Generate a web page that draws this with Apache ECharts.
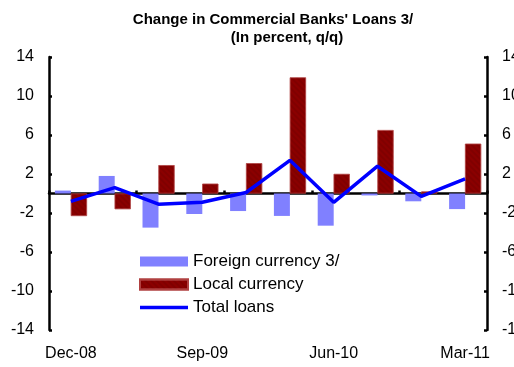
<!DOCTYPE html>
<html>
<head>
<meta charset="utf-8">
<script src="https://cdn.jsdelivr.net/npm/echarts@6/dist/echarts.min.js"></script>
<style>
  html, body { margin: 0; padding: 0; background: #fff; }
  #myChart { width: 514px; height: 367px; }
</style>
</head>
<body>
<div id="myChart"></div>
<script>
// quarters
const categories = ['Dec-08', 'Mar-09', 'Jun-09', 'Sep-09', 'Dec-09', 'Mar-10', 'Jun-10', 'Sep-10', 'Dec-10', 'Mar-11']
// percent q/q
const foreign = [0.3, 1.8, -3.5, -2.1, -1.8, -2.3, -3.3, -0.2, -0.8, -1.6]
const local = [-2.3, -1.6, 2.9, 1.0, 3.1, 11.9, 2.0, 6.5, 0.2, 5.1]
const total = [-0.8, 0.6, -1.1, -0.9, 0.1, 3.4, -0.9, 2.8, -0.3, 1.5]
const yMin = -14
const yMax = 14
const yStep = 4

const font = 'Liberation Sans, Arial, sans-serif'

function yAxisOf (pos) {
  return {
    type: 'value',
    position: pos,
    min: yMin,
    max: yMax,
    interval: yStep,
    splitLine: { show: false },
    axisLine: { show: true, onZero: false, lineStyle: { color: '#000', width: 2.5 } },
    axisTick: { show: true, inside: true, length: 3, lineStyle: { color: '#000', width: 2.5 } },
    axisLabel: { color: '#000', fontSize: 16, fontFamily: font, margin: 15 }
  }
}

let myChart = echarts.init(document.getElementById('myChart'))
myChart.setOption({
  animation: false,
  title: [
    {
      text: "Change in Commercial Banks' Loans 3/",
      left: 268, top: 7, textAlign: 'center',
      textStyle: { fontSize: 15, fontWeight: 'bold', color: '#000', fontFamily: font }
    },
    {
      text: '(In percent, q/q)',
      left: 282, top: 25, textAlign: 'center',
      textStyle: { fontSize: 15, fontWeight: 'bold', color: '#000', fontFamily: font }
    }
  ],
  grid: { left: 49, right: 27, top: 57, bottom: 37, outerBoundsMode: 'none', containLabel: false },
  legend: {
    orient: 'vertical',
    left: 139,
    top: 253,
    padding: 0,
    itemWidth: 48,
    itemHeight: 10,
    itemGap: 6,
    textStyle: { fontSize: 17, color: '#000', fontFamily: font },
    data: [
      { name: 'Foreign currency 3/', icon: 'rect' },
      { name: 'Local currency', icon: 'rect' },
      { name: 'Total loans', icon: 'path://M0,0h48v3.5h-48z' }
    ]
  },
  xAxis: [
    {
      type: 'category',
      data: categories,
      axisLine: { onZero: true, lineStyle: { color: '#000', width: 2.5 } },
      axisTick: { show: true, inside: true, length: 3, lineStyle: { color: '#000', width: 2.5 } },
      axisLabel: { show: false }
    },
    {
      type: 'category',
      data: categories,
      position: 'bottom',
      axisLine: { show: false, onZero: false },
      axisTick: { show: false },
      axisLabel: { color: '#000', fontSize: 16, fontFamily: font, interval: 2, margin: 16 }
    }
  ],
  yAxis: [yAxisOf('left'), yAxisOf('right')],
  series: [
    {
      name: 'Foreign currency 3/',
      type: 'bar',
      barWidth: 16,
      barGap: 0,
      itemStyle: { color: '#8080FF' },
      data: foreign
    },
    {
      name: 'Local currency',
      type: 'bar',
      barWidth: 16,
      barGap: 0,
      itemStyle: {
        color: '#8B0000',
        borderColor: '#B04040',
        borderWidth: 0.5,
        decal: {
          symbol: 'rect',
          symbolSize: 0.6,
          color: 'rgba(60,0,0,0.45)',
          dashArrayX: [1, 0],
          dashArrayY: [2, 2],
          rotation: Math.PI / 4
        }
      },
      data: local
    },
    {
      name: 'Total loans',
      type: 'line',
      symbol: 'none',
      z: 5,
      lineStyle: { color: '#0000FF', width: 3.5 },
      itemStyle: { color: '#0000FF' },
      data: total
    }
  ]
})
</script>
</body>
</html>
